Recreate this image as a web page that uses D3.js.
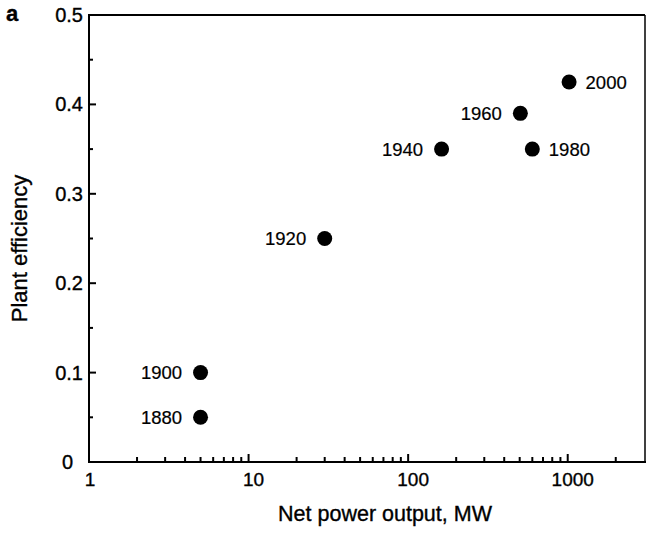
<!DOCTYPE html>
<html>
<head>
<meta charset="utf-8">
<script src="https://cdn.jsdelivr.net/npm/d3@7"></script>
<style>
  body { margin: 0; background: #fff; }
  svg { display: block; font-family: "Liberation Sans", Arial, Helvetica, sans-serif; }
  .axis path, .axis line { stroke: #000; stroke-width: 2; }
  text { fill: #000; stroke: #000; stroke-width: 0.35; }
  .ytick-label { font-size: 20px; }
  .xtick-label { font-size: 19px; }
  .pt-label { font-size: 18.5px; stroke-width: 0.2; }
</style>
</head>
<body>
<svg id="chart" width="647" height="534"></svg>
<script>
// Data
const years = [1880, 1900, 1920, 1940, 1960, 1980, 2000];
const powerMW = [5, 5, 30, 162, 505, 600, 1020];
const efficiency = [0.05, 0.10, 0.25, 0.35, 0.39, 0.35, 0.425];
const labelSide = ['left', 'left', 'left', 'left', 'left', 'right', 'right'];

const xMajorTicks = [1, 10, 100, 1000];
const xMinorTicks = [2, 3, 4, 5, 6, 7, 8, 9, 20, 30, 40, 50, 60, 70, 80, 90,
                     200, 300, 400, 500, 600, 700, 800, 900, 2000];
const yMajorTicks = [0, 0.1, 0.2, 0.3, 0.4, 0.5];
const yMinorTicks = [0.05, 0.15, 0.25, 0.35, 0.45];

const svg = d3.select('#chart');
const plot = { left: 89, right: 645, top: 15, bottom: 462 };

const x = d3.scaleLog().domain([1, 3050]).range([plot.left, plot.right]);
const y = d3.scaleLinear().domain([0, 0.5]).range([plot.bottom, plot.top]);

// Frame: top and right borders
svg.append('line')
    .attr('x1', plot.left).attr('x2', plot.right)
    .attr('y1', plot.top).attr('y2', plot.top)
    .attr('stroke', '#000').attr('stroke-width', 2);
svg.append('line')
    .attr('x1', plot.right).attr('x2', plot.right)
    .attr('y1', plot.top).attr('y2', plot.bottom)
    .attr('stroke', '#000').attr('stroke-width', 1.5);

// Bottom axis, ticks pointing inward
const xAxis = svg.append('g').attr('class', 'axis');
xAxis.append('line')
    .attr('x1', plot.left - 1).attr('x2', plot.right + 1)
    .attr('y1', plot.bottom).attr('y2', plot.bottom);
xAxis.selectAll('.xmajor')
    .data(xMajorTicks)
    .enter()
    .append('line')
    .attr('x1', d => x(d)).attr('x2', d => x(d))
    .attr('y1', plot.bottom).attr('y2', plot.bottom - 8);
xAxis.selectAll('.xminor')
    .data(xMinorTicks)
    .enter()
    .append('line')
    .attr('x1', d => x(d)).attr('x2', d => x(d))
    .attr('y1', plot.bottom).attr('y2', plot.bottom - 5);
xAxis.selectAll('.xlabel')
    .data(xMajorTicks)
    .enter()
    .append('text')
    .attr('class', 'xtick-label')
    .attr('x', d => d === 1 ? x(d) + 1 : x(d) + 5)
    .attr('y', plot.bottom + 24)
    .attr('text-anchor', 'middle')
    .text(d => d);

// Left axis, ticks pointing inward
const yAxis = svg.append('g').attr('class', 'axis');
yAxis.append('line')
    .attr('x1', plot.left).attr('x2', plot.left)
    .attr('y1', plot.top - 1).attr('y2', plot.bottom + 1);
yAxis.selectAll('.ymajor')
    .data(yMajorTicks)
    .enter()
    .append('line')
    .attr('x1', plot.left).attr('x2', plot.left + 7)
    .attr('y1', d => y(d)).attr('y2', d => y(d));
yAxis.selectAll('.yminor')
    .data(yMinorTicks)
    .enter()
    .append('line')
    .attr('x1', plot.left).attr('x2', plot.left + 4)
    .attr('y1', d => y(d)).attr('y2', d => y(d));
yAxis.selectAll('.ylabel')
    .data(yMajorTicks)
    .enter()
    .append('text')
    .attr('class', 'ytick-label')
    .attr('x', d => d === 0 ? plot.left - 16 : plot.left - 6)
    .attr('y', d => y(d) + 7)
    .attr('text-anchor', 'end')
    .text(d => d === 0 ? '0' : d3.format('.1f')(d));

// Axis titles
svg.append('text')
    .attr('x', 385)
    .attr('y', 521)
    .attr('font-size', 21.5)
    .attr('text-anchor', 'middle')
    .text('Net power output, MW');
svg.append('text')
    .attr('transform', 'translate(27, 248.5) rotate(-90)')
    .attr('font-size', 22)
    .attr('text-anchor', 'middle')
    .text('Plant efficiency');

// Panel letter
svg.append('text')
    .attr('x', 6).attr('y', 21)
    .attr('font-size', 22).attr('font-weight', 'bold')
    .text('a');

// Points
const points = years.map((yr, i) => ({
    year: yr, p: powerMW[i], e: efficiency[i], side: labelSide[i]
}));

svg.selectAll('.dot')
    .data(points)
    .enter()
    .append('circle')
    .attr('cx', d => x(d.p))
    .attr('cy', d => y(d.e))
    .attr('r', 7.5)
    .attr('fill', '#000');

svg.selectAll('.pt-label')
    .data(points)
    .enter()
    .append('text')
    .attr('class', 'pt-label')
    .attr('x', d => d.side === 'left' ? x(d.p) - 18.5 : x(d.p) + 16.5)
    .attr('y', d => y(d.e) + 6.6)
    .attr('text-anchor', d => d.side === 'left' ? 'end' : 'start')
    .text(d => d.year);
</script>
</body>
</html>
